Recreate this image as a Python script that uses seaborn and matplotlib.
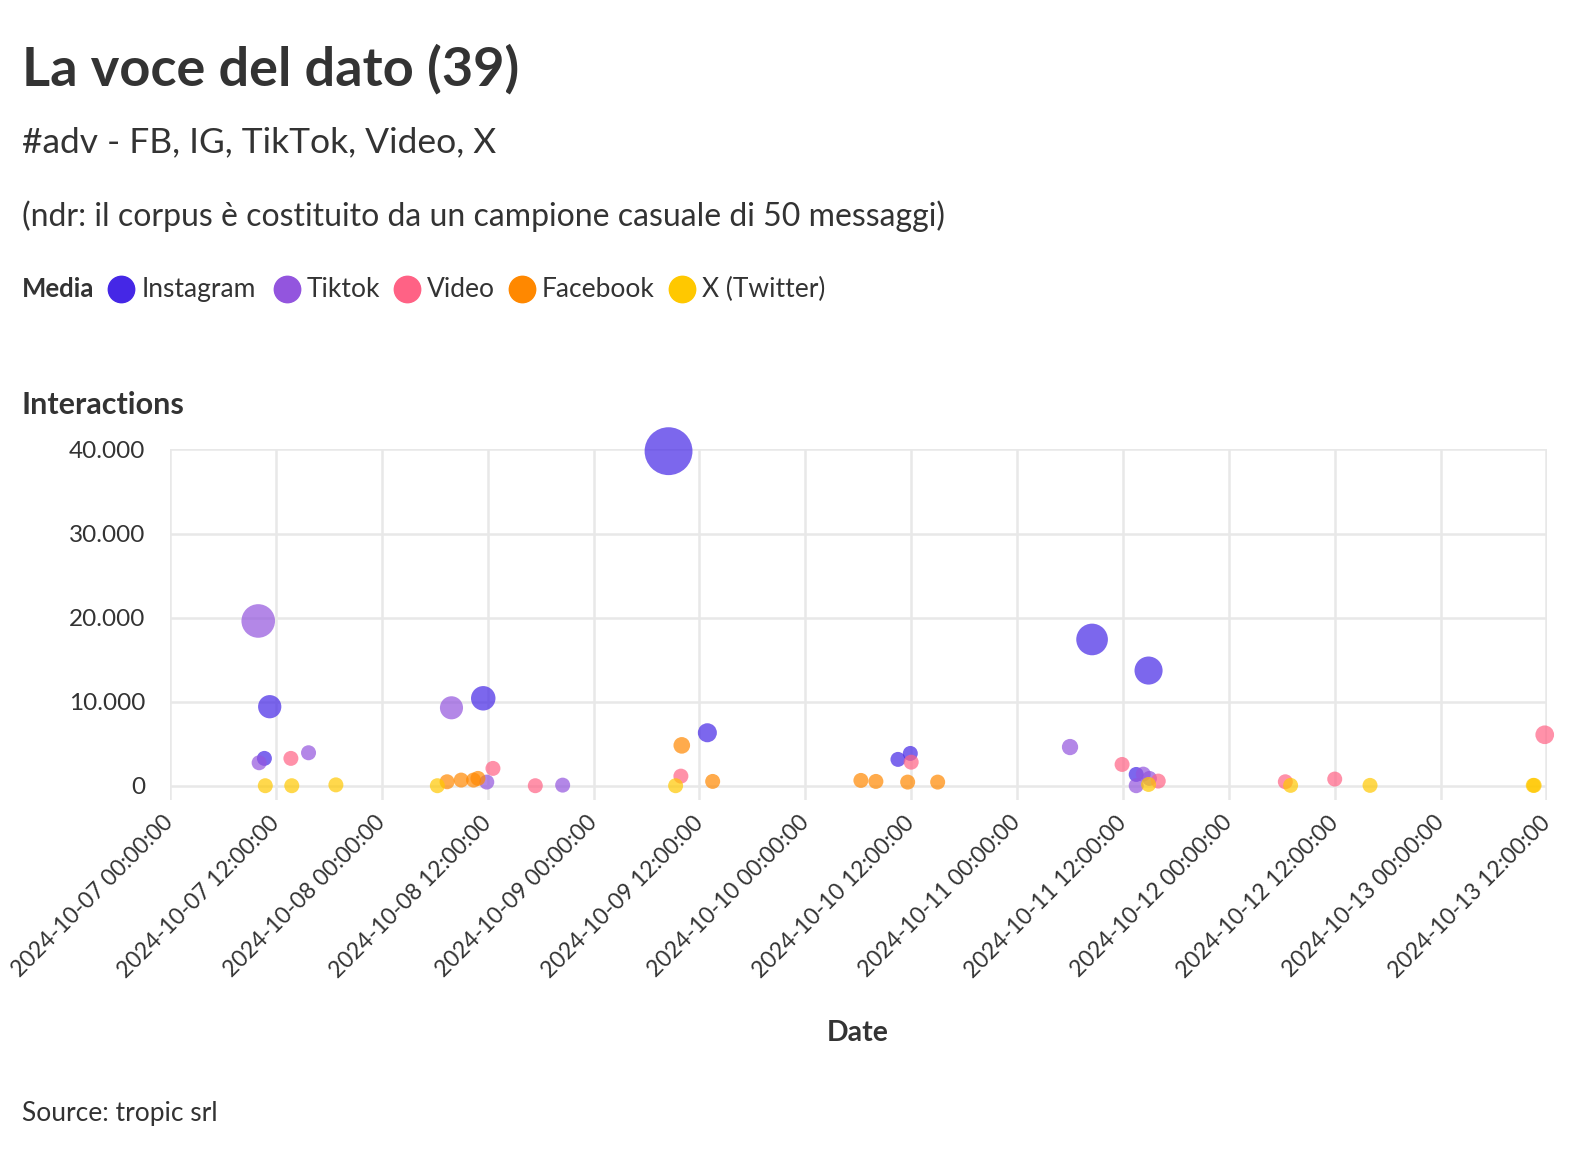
import matplotlib
matplotlib.use("Agg")
import matplotlib.pyplot as plt
import matplotlib.dates as mdates
from matplotlib.lines import Line2D
from matplotlib.ticker import FuncFormatter
import pandas as pd
import seaborn as sns

# --- data (10 messages per media) ---
media_order = ["Instagram", "Tiktok", "Video", "Facebook", "X (Twitter)"]
colors = ["#4527E6", "#9355DE", "#FF6285", "#FF8800", "#FFC800"]

instagram_dates = ["2024-10-07 11:18", "2024-10-07 10:42", "2024-10-08 11:30", "2024-10-09 08:30",
                   "2024-10-09 12:54", "2024-10-10 10:30", "2024-10-10 11:54", "2024-10-11 08:30",
                   "2024-10-11 14:54", "2024-10-11 13:30"]
instagram_values = [9400, 3250, 10400, 39800, 6300, 3130, 3840, 17400, 13700, 1340]

tiktok_dates = ["2024-10-07 10:00", "2024-10-07 10:06", "2024-10-07 15:42", "2024-10-08 07:54",
                "2024-10-08 11:54", "2024-10-08 20:30", "2024-10-11 06:00", "2024-10-11 14:18",
                "2024-10-11 13:30", "2024-10-11 15:00"]
tiktok_values = [19600, 2730, 3920, 9270, 430, 70, 4600, 1380, 0, 870]

video_dates = ["2024-10-07 13:42", "2024-10-08 12:36", "2024-10-08 17:24", "2024-10-09 09:54",
               "2024-10-10 12:00", "2024-10-11 11:54", "2024-10-11 16:00", "2024-10-12 06:24",
               "2024-10-12 12:00", "2024-10-13 11:48"]
video_values = [3250, 2060, 0, 1140, 2800, 2530, 550, 470, 790, 6060]

facebook_dates = ["2024-10-08 07:24", "2024-10-08 09:00", "2024-10-08 10:24", "2024-10-08 10:54",
                  "2024-10-09 10:00", "2024-10-09 13:30", "2024-10-10 06:18", "2024-10-10 08:00",
                  "2024-10-10 11:36", "2024-10-10 15:00"]
facebook_values = [470, 670, 670, 870, 4800, 510, 630, 510, 430, 430]

x_dates = ["2024-10-07 10:48", "2024-10-07 13:48", "2024-10-07 18:48", "2024-10-08 06:18",
           "2024-10-09 09:18", "2024-10-11 14:54", "2024-10-12 07:00", "2024-10-12 16:00",
           "2024-10-13 10:30", "2024-10-13 10:36"]
x_values = [0, 0, 100, 0, 0, 150, 40, 40, 40, 40]

frames = []
for name, d, v in zip(media_order,
                      [instagram_dates, tiktok_dates, video_dates, facebook_dates, x_dates],
                      [instagram_values, tiktok_values, video_values, facebook_values, x_values]):
    frames.append(pd.DataFrame({"Date": pd.to_datetime(d), "Interactions": v, "Media": name}))
df = pd.concat(frames, ignore_index=True)
df["bubble"] = df["Interactions"].clip(lower=3900)

plt.rcParams["font.family"] = ["Lato", "DejaVu Sans"]
text_col = "#333333"

W, H = 1588, 1150
fig = plt.figure(figsize=(W / 100, H / 100), dpi=100)
ax = fig.add_axes([170 / W, 1 - 800 / H, (1546.5 - 170) / W, (800 - 449.5) / H])

sns.scatterplot(data=df, x="Date", y="Interactions", hue="Media", hue_order=media_order,
                palette=dict(zip(media_order, colors)), size="bubble", sizes=(0, 1194),
                size_norm=(0, 40000), alpha=0.7, linewidth=0, legend=False, ax=ax,
                clip_on=False, zorder=3)

ax.set_xlim(pd.Timestamp("2024-10-07 00:00"), pd.Timestamp("2024-10-13 12:00"))
ax.set_ylim(-1700, 40000)
ax.set_yticks([0, 10000, 20000, 30000, 40000])
ax.yaxis.set_major_formatter(FuncFormatter(lambda v, p: f"{int(v):,}".replace(",", ".")))
ax.xaxis.set_major_locator(mdates.HourLocator(byhour=[0, 12]))
ax.xaxis.set_major_formatter(mdates.DateFormatter("%Y-%m-%d %H:%M:%S"))

ax.grid(True, color="#E8E8E8", linewidth=1.8)
ax.set_axisbelow(True)
for s in ax.spines.values():
    s.set_visible(False)
ax.tick_params(axis="x", length=0, labelsize=16.5, colors=text_col, pad=14)
ax.tick_params(axis="y", length=0, labelsize=17.5, colors=text_col, pad=18)
for lab in ax.get_xticklabels():
    lab.set_rotation(45)
    lab.set_ha("right")
    lab.set_va("center")
    lab.set_rotation_mode("anchor")
ax.set_xlabel("")
ax.set_ylabel("")

fig.text(858 / W, 1 - 1033 / H, "Date", ha="center", va="center", fontsize=20.5,
         fontweight="bold", color=text_col)
fig.text(22 / W, 1 - 405 / H, "Interactions", ha="left", va="center", fontsize=22,
         fontweight="bold", color=text_col)

# titles
fig.text(22 / W, 1 - 69 / H, "La voce del dato (39)", ha="left", va="center", fontsize=39,
         fontweight="bold", color=text_col)
fig.text(22 / W, 1 - 142 / H, "#adv - FB, IG, TikTok, Video, X", ha="left", va="center",
         fontsize=25.5, color=text_col)
fig.text(22 / W, 1 - 216 / H, "(ndr: il corpus è costituito da un campione casuale di 50 messaggi)",
         ha="left", va="center", fontsize=23, color=text_col)
fig.text(22 / W, 1 - 1113 / H, "Source: tropic srl", ha="left", va="center", fontsize=19,
         color=text_col)

# legend row
ly = 1 - 289 / H
fig.text(22 / W, ly, "Media", ha="left", va="center", fontsize=18.5, fontweight="bold",
         color=text_col)
marker_x = [121.5, 286.6, 407, 521.6, 681.6]
for mx, name, col in zip(marker_x, media_order, colors):
    fig.add_artist(Line2D([mx / W], [ly], marker="o", markersize=19, color=col,
                          linestyle="none", transform=fig.transFigure))
    fig.text((mx + 20) / W, ly, name, ha="left", va="center", fontsize=19, color=text_col)

fig.savefig("out.png", dpi=100)
